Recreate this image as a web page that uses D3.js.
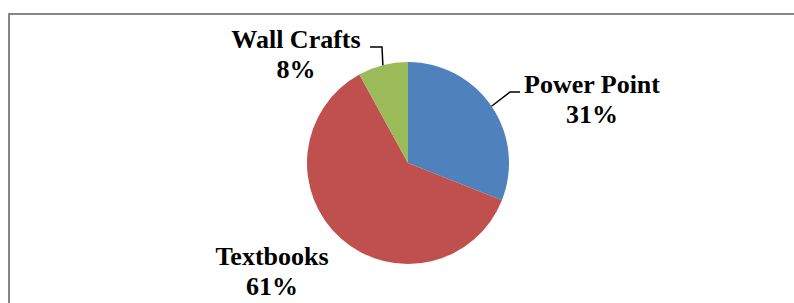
<!DOCTYPE html>
<html>
<head>
<meta charset="utf-8">
<script src="https://cdn.jsdelivr.net/npm/d3@7"></script>
<style>
  html, body { margin: 0; padding: 0; background: #fff; }
  svg { display: block; }
</style>
</head>
<body>
<svg id="chart" width="794" height="303"></svg>
<script>
// dados do gráfico
const categories = ["Power Point", "Textbooks", "Wall Crafts"];
const values = [31, 61, 8];
const percentLabels = ["31%", "61%", "8%"];
const colors = ["#4F81BD", "#C0504D", "#9BBB59"];

// posição dos rótulos (layout)
const labelPos = [
  { x: 592, y: 93, leader: true, lx: 520 },
  { x: 272, y: 265, leader: false },
  { x: 296, y: 48, leader: true, lx: 370 }
];

const svg = d3.select("#chart");

// moldura
svg.append("rect")
  .attr("x", 9).attr("y", 14)
  .attr("width", 800).attr("height", 300)
  .attr("fill", "none")
  .attr("stroke", "#868686")
  .attr("stroke-width", 2);

const cx = 408, cy = 163, r = 101;
const g = svg.append("g").attr("transform", `translate(${cx},${cy})`);

const pie = d3.pie().sort(null).value(d => d)(values);
const arc = d3.arc().innerRadius(0).outerRadius(r);

g.selectAll("path.slice")
  .data(pie)
  .join("path")
  .attr("class", "slice")
  .attr("d", arc)
  .attr("fill", (d, i) => colors[i]);

// linhas de chamada
pie.forEach((d, i) => {
  const p = labelPos[i];
  if (!p.leader) return;
  const mid = (d.startAngle + d.endAngle) / 2;
  const ex = cx + r * Math.sin(mid);
  const ey = cy - r * Math.cos(mid);
  const ly = p.y - 1;
  const kx = i === 0 ? p.lx - 10 : p.lx + 12;
  svg.append("path")
    .attr("d", `M${p.lx},${ly}L${kx},${ly}L${ex},${ey}`)
    .attr("fill", "none")
    .attr("stroke", "#000")
    .attr("stroke-width", 1.5);
});

// rótulos
const labels = svg.selectAll("text.lbl")
  .data(categories)
  .join("text")
  .attr("class", "lbl")
  .attr("text-anchor", "middle")
  .attr("font-family", "'Liberation Serif', 'Times New Roman', serif")
  .attr("font-weight", "bold")
  .attr("font-size", 26)
  .attr("fill", "#000");

labels.append("tspan")
  .attr("x", (d, i) => labelPos[i].x)
  .attr("y", (d, i) => labelPos[i].y)
  .text(d => d);

labels.append("tspan")
  .attr("x", (d, i) => labelPos[i].x)
  .attr("y", (d, i) => labelPos[i].y + 30)
  .text((d, i) => percentLabels[i]);
</script>
</body>
</html>
